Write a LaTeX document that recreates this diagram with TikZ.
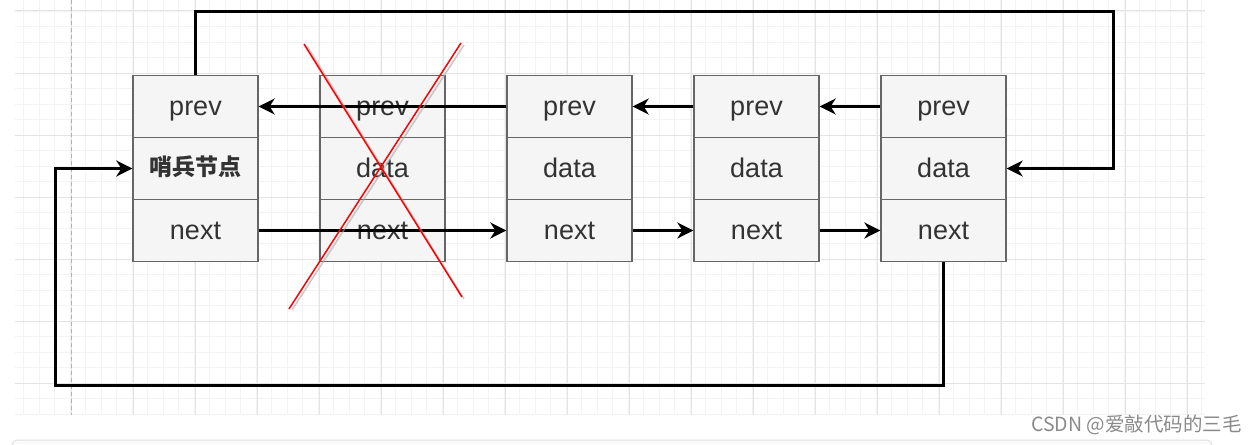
\documentclass[tikz,border=0pt]{standalone}
\usepackage{fontspec}
\setmainfont{Liberation Sans}
\newfontfamily\cjk{Noto Sans CJK SC}
\usetikzlibrary{arrows.meta}
\definecolor{cellfill}{HTML}{F5F5F5}
\definecolor{cellborder}{HTML}{666666}
\definecolor{txt}{HTML}{333333}
\definecolor{gridminor}{HTML}{F3F3F3}
\definecolor{gridmajor}{HTML}{E4E4E4}
\definecolor{wm}{HTML}{8A8A8A}
\tikzset{
  cell/.style={draw=cellborder, fill=cellfill, line width=1.3pt, minimum width=125pt,
    minimum height=62pt, inner sep=0pt, text=txt, text height=22pt, text depth=4pt,
    font=\fontsize{27}{31}\selectfont},
  link/.style={line width=3pt, line join=miter, draw=black,
    -{Stealth[length=16pt,width=16pt,inset=5pt]}},
  cross/.style={draw=red, line width=1.5pt},
  crossshadow/.style={draw=black!35, line width=1.5pt, opacity=0.6}
}
\begin{document}
\begin{tikzpicture}[x=1pt,y=-1pt]
\useasboundingbox (0,0) rectangle (1257,444);
\fill[white] (0,0) rectangle (1257,444);
% grid
\begin{scope}
\clip (15,0) rectangle (1205,415);
\foreach \i in {0,...,77} {
  \draw[gridminor, line width=0.8pt] (23.5+15.5*\i,0) -- (23.5+15.5*\i,415);
}
\foreach \i in {0,...,27} {
  \draw[gridminor, line width=0.8pt] (15,11+15.5*\i) -- (1205,11+15.5*\i);
}
\foreach \i in {0,...,19} {
  \draw[gridmajor, line width=1pt] (9+62*\i,0) -- (9+62*\i,415);
}
\foreach \i in {0,...,7} {
  \draw[gridmajor, line width=1pt] (15,11+62*\i) -- (1205,11+62*\i);
}
\end{scope}
\draw[black!30, line width=1pt, dash pattern=on 4pt off 3pt] (71,0) -- (71,415);
% bottom bar
\draw[draw=black!12, fill=black!2, line width=1pt, rounded corners=5pt] (12,440) rectangle (1212,470);
% nodes
\foreach \k/\x in {1/195.5,2/382.5,3/569.5,4/756.5,5/943.5} {
  \node[cell] (n\k p) at (\x,106.5) {prev};
  \node[cell] (n\k n) at (\x,230.5) {next};
}
\node[cell, text height=17pt, text depth=4pt, font=\cjk\bfseries\fontsize{23}{27}\selectfont] (n1d) at (195.5,168.5) {哨兵节点};
\foreach \k/\x in {2/382.5,3/569.5,4/756.5,5/943.5} {
  \node[cell] (n\k d) at (\x,168.5) {data};
}
% links
\draw[link] (n3p.west) -- (n1p.east);
\draw[link] (n4p.west) -- (n3p.east);
\draw[link] (n5p.west) -- (n4p.east);
\draw[link] (n1n.east) -- (n3n.west);
\draw[link] (n3n.east) -- (n4n.west);
\draw[link] (n4n.east) -- (n5n.west);
\coordinate (tr) at (1113,12);
\coordinate (bl) at (55,385);
\draw[link] (n1p.north) |- (tr) |- (n5d.east);
\draw[link] (n5n.south) |- (bl) |- (n1d.west);
% red cross
\draw[crossshadow] (307,46) -- (464,299);
\draw[crossshadow] (292,310) -- (464,45);
\draw[cross] (304,44) -- (462,297);
\draw[cross] (289,309) -- (461,43);
% watermark
\node[font=\cjk\fontsize{19.5}{22}\selectfont, text=wm, anchor=east, inner sep=0pt] (wmk) at (1242,425) {CSDN @爱敲代码的三毛};
\end{tikzpicture}
\end{document}
